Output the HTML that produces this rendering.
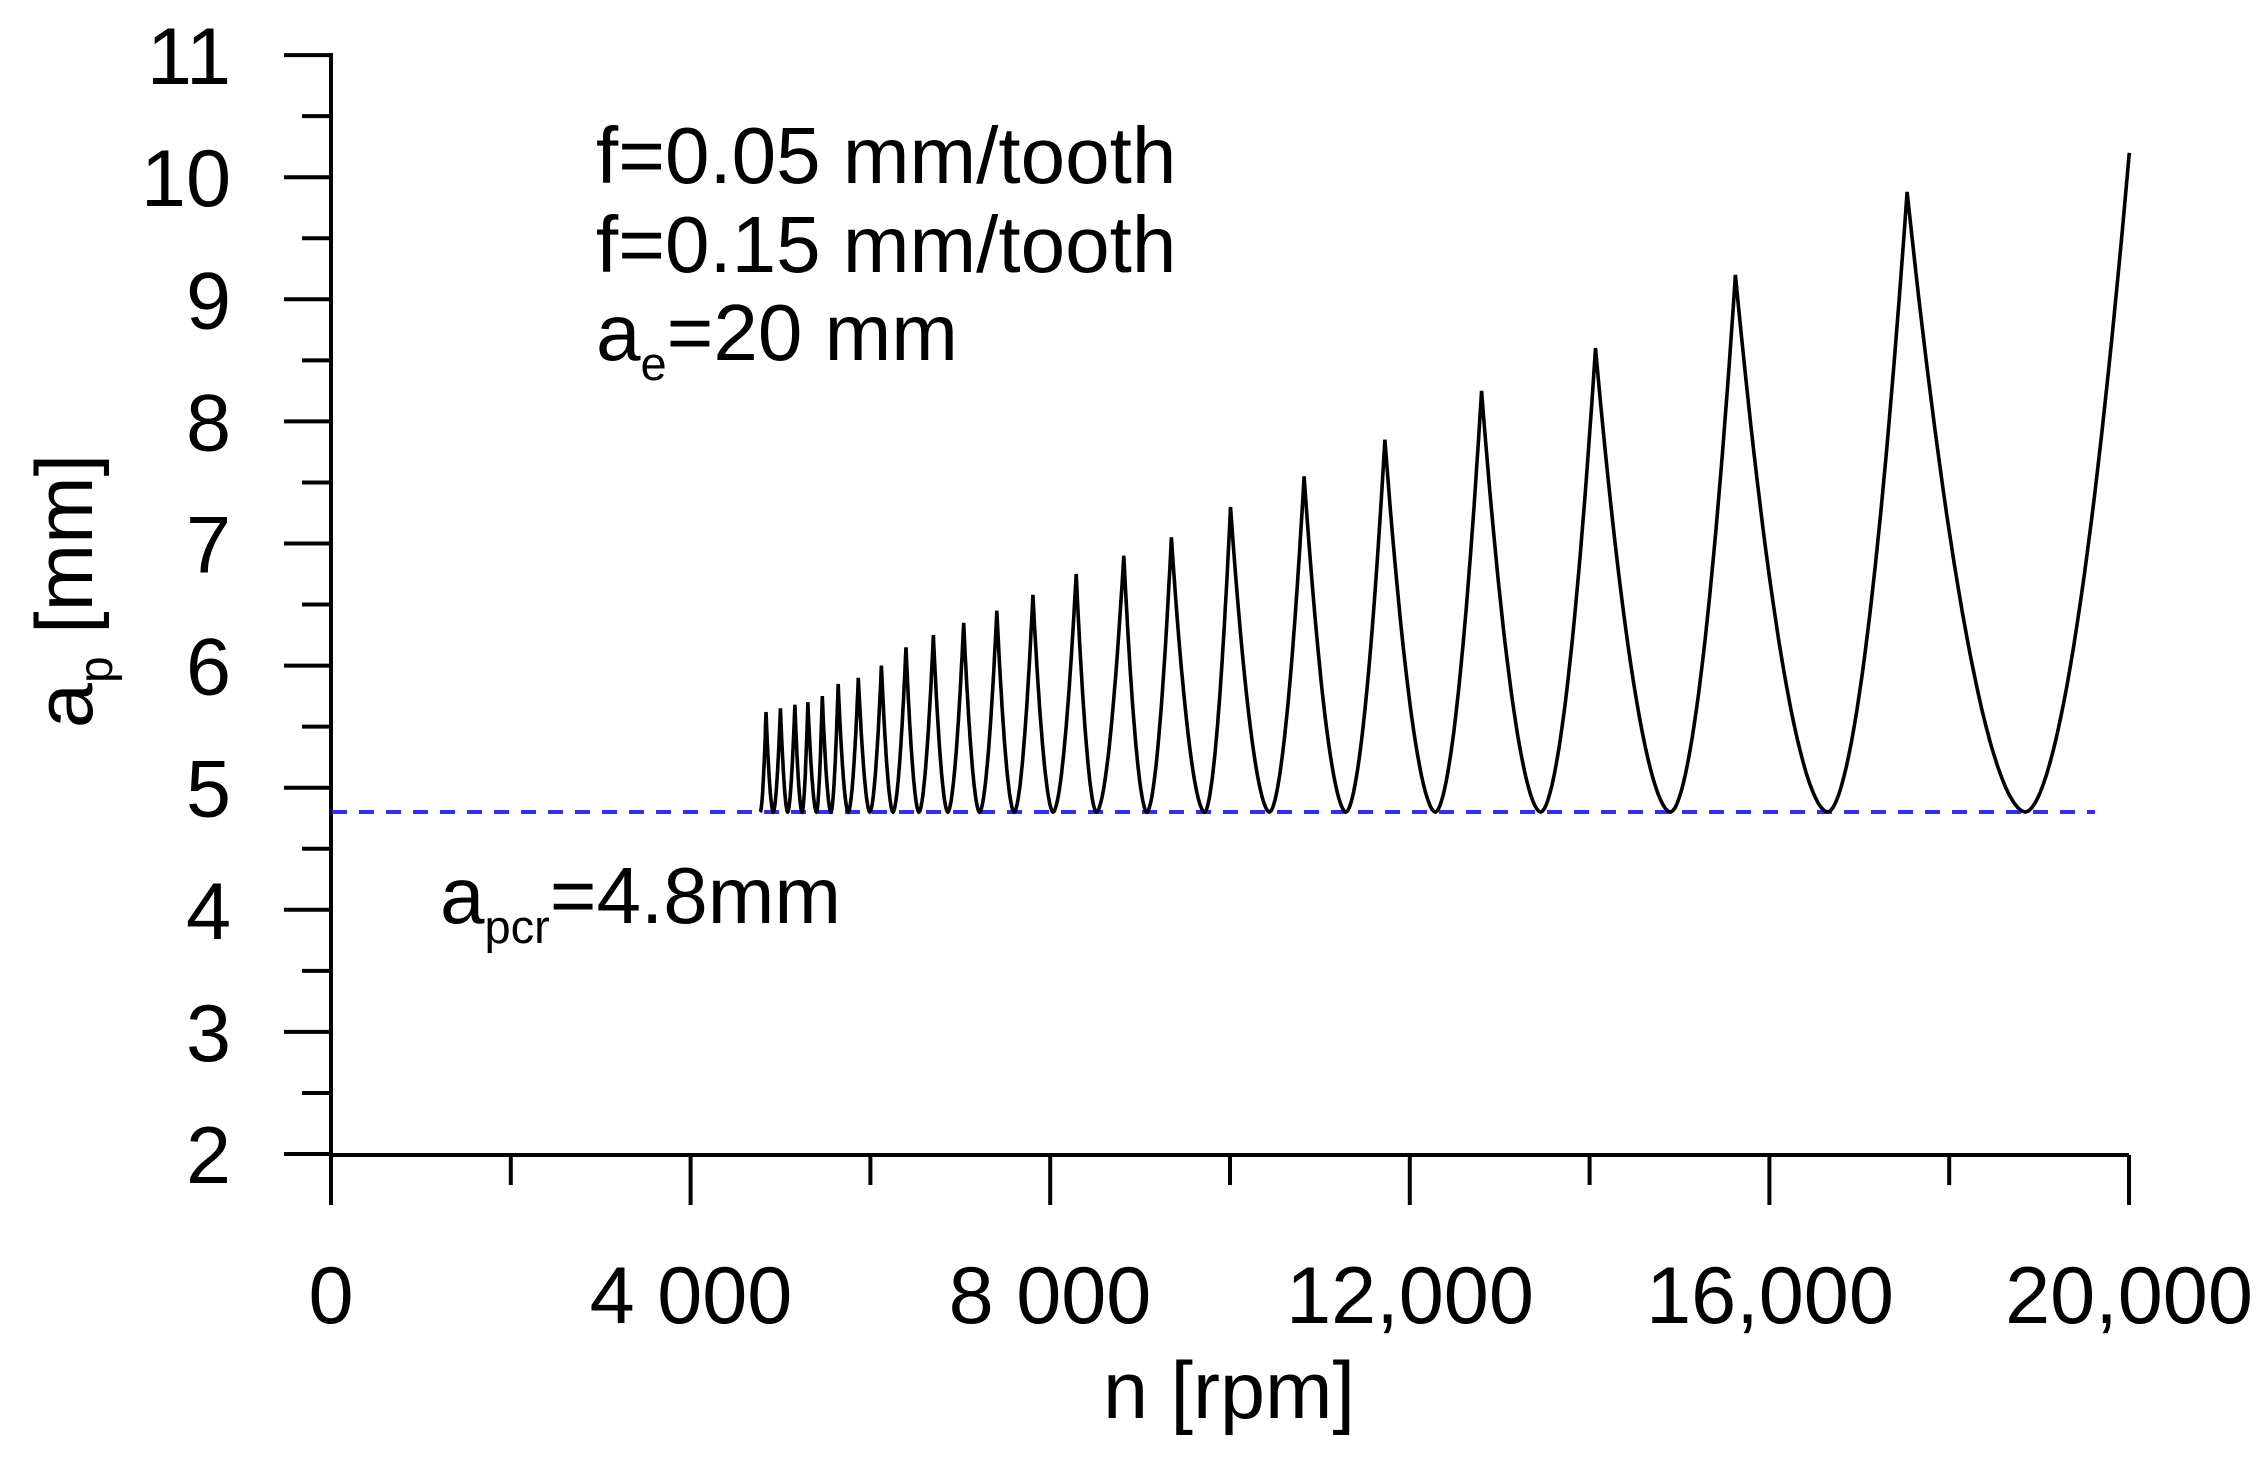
<!DOCTYPE html>
<html><head><meta charset="utf-8"><style>
html,body{margin:0;padding:0;background:#fff;}
svg{display:block;}
text{font-family:"Liberation Sans",Arial,sans-serif;fill:#000;}
</style></head><body>
<svg id="s" width="2262" height="1459" viewBox="0 0 2262 1459" xmlns="http://www.w3.org/2000/svg">
<g stroke="#000" stroke-width="4" fill="none">
<line x1="331" y1="53" x2="331" y2="1155"/>
<line x1="329" y1="1155" x2="2129" y2="1155"/>
<g id="yt"></g><g id="xt"></g>
</g>
<line x1="332" y1="812" x2="2095" y2="812" stroke="#2f2fff" stroke-width="4" stroke-dasharray="15,12"/>
<path id="curve" d="" stroke="#000" stroke-width="3.6" fill="none" stroke-linejoin="miter"/>
<g font-size="81" text-anchor="end" id="yl"></g>
<g font-size="81" text-anchor="middle">
<text x="331" y="1323">0</text>
<text x="691" y="1323">4 000</text>
<text x="1050" y="1323">8 000</text>
<text x="1410" y="1323">12,000</text>
<text x="1770" y="1323">16,000</text>
<text x="2129" y="1323">20,000</text>
<text x="1229" y="1418">n [rpm]</text>
</g>
<text font-size="81" transform="translate(92,591) rotate(-90)" text-anchor="middle">a<tspan font-size="48" dy="20">p</tspan><tspan dy="-20"> [mm]</tspan></text>
<text font-size="80" x="596" y="183">f=0.05 mm/tooth</text>
<text font-size="80" x="596" y="272">f=0.15 mm/tooth</text>
<text font-size="80" x="596" y="360">a<tspan font-size="47" dy="20">e</tspan><tspan dy="-20">=20 mm</tspan></text>
<text font-size="80" x="440" y="923">a<tspan font-size="47" dy="20">pcr</tspan><tspan dy="-20">=4.8mm</tspan></text>
</svg>
<script>
var NS="http://www.w3.org/2000/svg";
function Y(v){return 1154-(v-2)*122.1;}
var yt=document.getElementById('yt'),yl=document.getElementById('yl'),xt=document.getElementById('xt');
for(var v=2;v<=11.001;v+=0.5){var y=Y(v);var l=document.createElementNS(NS,'line');var maj=Math.abs(v-Math.round(v))<0.01;
l.setAttribute('x1',maj?284:302);l.setAttribute('x2',331);l.setAttribute('y1',y);l.setAttribute('y2',y);yt.appendChild(l);
if(maj){var t=document.createElementNS(NS,'text');t.setAttribute('x',231);t.setAttribute('y',y+29);t.textContent=Math.round(v);yl.appendChild(t);}}
for(var n=0;n<=20000;n+=2000){var x=331+n*0.0899;var l=document.createElementNS(NS,'line');var maj=n%4000==0;
l.setAttribute('x1',x);l.setAttribute('x2',x);l.setAttribute('y1',1155);l.setAttribute('y2',maj?1205:1185);xt.appendChild(l);}
var s=1.4426;
var mins=[527,536,546,556,566,576,588,603,619,637,657,679,703,730,760,795,835,880,933,995,1068,1158,1267,1404];
var pk=[531,541,551,560,570,581,595,611,628,647,668,691,716,746,779,812,853,904,960,1027,1106,1203,1322,1476];
var pv=[5.62,5.65,5.68,5.7,5.75,5.85,5.9,6.0,6.15,6.25,6.35,6.45,6.58,6.75,6.9,7.05,7.3,7.55,7.85,8.25,8.6,9.2,9.88,10.2];
var d="";var ym=Y(4.8);
for(var i=0;i<mins.length;i++){
 var xm=mins[i]*s,xp=pk[i]*s,yp=Y(pv[i]);
 if(i==0)d+="M"+xm+","+ym;
 else{
  var xq=pk[i-1]*s,yq=Y(pv[i-1]);
  for(var k=1;k<=30;k++){var t=k/30;var x=xq+(xm-xq)*t;var u=1-t;d+=" L"+x.toFixed(1)+","+(ym+(yq-ym)*Math.pow(u,1.8)).toFixed(1);}
 }
 for(var k=1;k<=30;k++){var t=k/30;var x=xm+(xp-xm)*t;d+=" L"+x.toFixed(1)+","+(ym+(yp-ym)*Math.pow(t,1.8)).toFixed(1);}
}
document.getElementById('curve').setAttribute('d',d);
</script>
</body></html>
